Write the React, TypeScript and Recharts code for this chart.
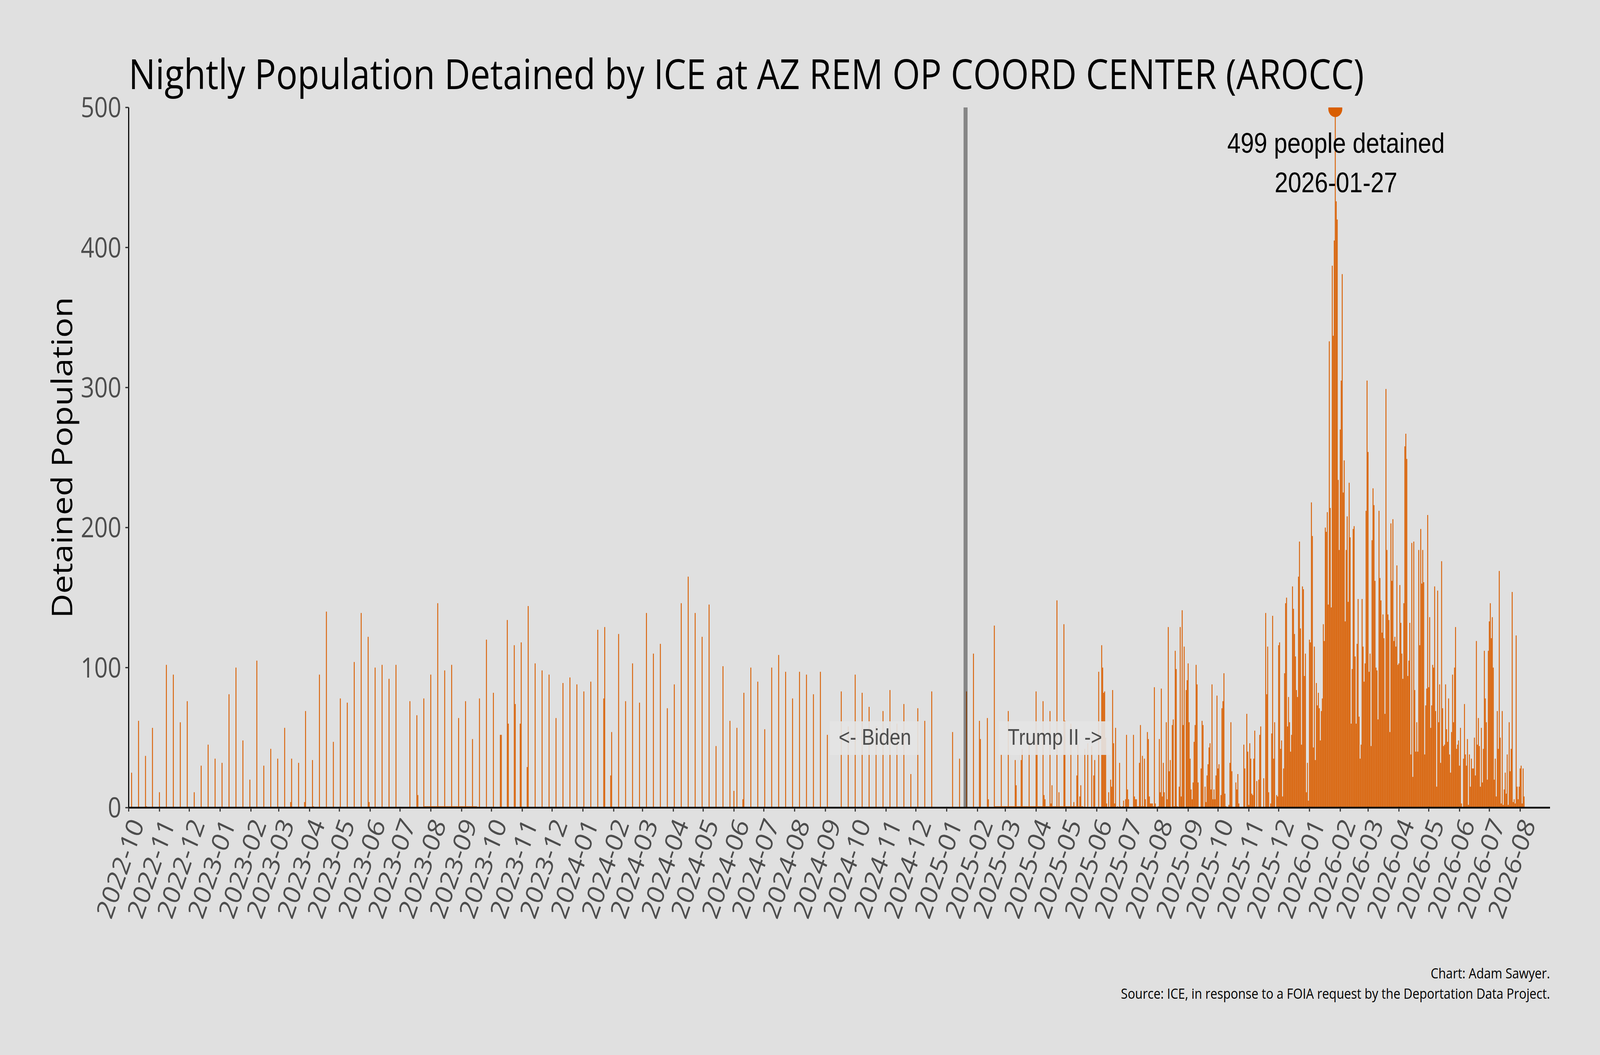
import React from "react";
import { BarChart, Bar, XAxis, YAxis, ReferenceLine, ReferenceDot } from "recharts";

// ---------- data ----------
const START_DATE = "2022-10-01"; // day 0 of the series
const INAUGURATION_DATE = "2025-01-20";

const monthLabels = [
  "2022-10", "2022-11", "2022-12",
  "2023-01", "2023-02", "2023-03", "2023-04", "2023-05", "2023-06",
  "2023-07", "2023-08", "2023-09", "2023-10", "2023-11", "2023-12",
  "2024-01", "2024-02", "2024-03", "2024-04", "2024-05", "2024-06",
  "2024-07", "2024-08", "2024-09", "2024-10", "2024-11", "2024-12",
  "2025-01", "2025-02", "2025-03", "2025-04", "2025-05", "2025-06",
  "2025-07", "2025-08", "2025-09", "2025-10", "2025-11", "2025-12",
  "2026-01", "2026-02", "2026-03", "2026-04", "2026-05", "2026-06",
  "2026-07", "2026-08",
];

const yTicks = [0, 100, 200, 300, 400, 500];

// [days since START_DATE, people detained] – mostly weekly snapshots
const weeklySnapshots: [number, number][] = [
  [3, 25], [10, 62], [17, 37], [18, 1], [24, 57], [31, 11], [38, 102], [45, 95], [52, 61], [59, 76],
  [66, 11], [73, 30], [80, 45], [87, 35], [94, 32], [101, 81], [108, 100], [115, 48], [122, 20], [129, 105],
  [136, 30], [143, 42], [150, 35], [157, 57], [163, 4], [164, 35], [171, 32], [177, 4], [178, 69], [185, 34],
  [186, 1], [192, 95], [199, 140], [206, 47], [213, 78], [220, 75], [227, 104], [234, 139], [241, 122], [242, 4],
  [248, 100], [255, 102], [262, 92], [269, 102], [283, 76], [290, 66], [291, 9], [297, 78],
  [304, 95], [311, 146], [318, 98], [325, 102], [332, 64], [339, 76], [346, 49], [353, 78], [360, 120], [367, 82],
  [374, 52], [375, 52], [381, 134], [382, 60], [388, 116], [389, 74], [394, 60], [395, 118], [401, 29], [402, 144],
  [409, 103], [416, 98], [423, 95], [430, 64], [437, 89], [444, 93], [451, 88], [458, 83], [465, 90], [472, 127],
  [478, 78], [479, 129], [485, 23], [486, 54], [493, 124], [500, 76], [507, 103], [514, 75], [521, 139], [528, 110],
  [535, 117], [542, 71], [549, 88], [556, 146], [563, 165], [570, 139], [577, 122], [584, 145], [591, 44],
  [598, 101], [605, 62], [609, 12], [612, 57], [618, 6], [619, 82], [626, 100], [633, 90], [640, 56], [647, 100],
  [654, 109], [661, 97], [668, 78], [675, 97], [682, 95], [689, 81], [696, 97], [703, 52], [717, 83], [724, 58],
  [731, 95], [738, 82], [745, 72], [752, 58], [759, 69], [766, 84], [773, 60], [780, 74], [787, 24], [794, 71],
  [801, 62], [808, 83], [829, 54], [836, 35], [843, 83], [850, 110], [856, 62], [857, 49], [864, 64], [865, 6],
  [871, 130], [878, 38], [885, 69],
];

// spring / summer 2025: irregular reporting
const spring2025: [number, number][] = [
  [892, 34], [893, 16], [898, 34], [899, 42], [906, 49], [913, 83], [914, 45], [920, 76], [921, 9], [922, 6],
  [927, 69], [928, 3], [929, 16], [934, 148], [936, 11], [941, 131], [942, 62], [947, 1], [948, 60], [951, 4],
  [954, 23], [955, 45], [957, 8], [958, 16], [962, 42], [965, 46], [969, 44], [971, 23], [972, 34], [976, 97],
  [979, 116], [980, 100], [981, 82], [982, 83], [983, 50], [984, 3], [986, 11], [988, 20], [989, 15], [990, 84],
  [991, 46], [992, 3], [993, 57], [995, 1], [997, 32], [998, 1], [1000, 1], [1001, 5], [1003, 6], [1004, 52],
  [1005, 13], [1006, 6], [1011, 52], [1012, 8], [1013, 6], [1014, 6], [1015, 1], [1016, 1], [1017, 32], [1018, 59],
  [1019, 1], [1020, 37], [1021, 1], [1022, 35], [1023, 6], [1025, 54], [1026, 49], [1027, 8], [1028, 3], [1029, 3],
  [1030, 3], [1031, 1], [1032, 86], [1033, 3], [1036, 1], [1037, 49], [1038, 11], [1039, 85], [1040, 8], [1041, 32],
  [1042, 11], [1044, 61], [1045, 6], [1046, 129], [1047, 26], [1048, 34], [1050, 59], [1051, 63], [1052, 1], [1053, 112],
  [1054, 99], [1055, 1], [1057, 15], [1058, 129], [1059, 8], [1060, 141], [1061, 59], [1062, 115], [1064, 84],
];

// stretches where a thin sliver (about 1 person) sits on the baseline: [fromDay, toDay, value]
const baselineRuns: [number, number, number][] = [
  [298, 350, 1],
  [872, 960, 1],
];

// daily counts from 2025-08-31 onward
const DAILY_START = "2025-08-31";
const dailyCounts = [
  91, 103, 61, 35, 13, 6, 18, 47, 59, 102,
  88, 18, 0, 0, 28, 62, 59, 0, 15, 4,
  23, 31, 43, 46, 13, 88, 6, 13, 6, 23,
  80, 28, 31, 0, 9, 71, 76, 96, 10, 1,
  0, 0, 2, 32, 61, 26, 0, 0, 0, 18,
  13, 24, 3, 0, 0, 0, 0, 45, 28, 0,
  67, 40, 2, 46, 35, 10, 9, 35, 55, 0,
  19, 0, 20, 52, 58, 0, 0, 21, 0, 139,
  81, 115, 11, 0, 3, 53, 137, 35, 61, 0,
  9, 8, 116, 118, 42, 48, 8, 28, 96, 146,
  150, 58, 79, 61, 40, 52, 158, 142, 124, 108,
  84, 79, 165, 190,
  128, 45, 158, 156, 94, 110, 11, 32, 5, 120,
  118, 218, 194, 43, 115, 34, 89, 73, 82, 71,
  48, 69, 78, 131, 119, 200, 197, 211, 145, 333,
  214, 143, 387, 337, 405, 499, 433, 420, 234, 184,
  270, 305, 381, 225, 248, 133, 184, 208, 147, 232,
  193, 60, 99, 199, 201, 108, 60, 117, 149, 65,
  35, 45, 149, 115, 90, 103, 212, 305, 254, 97,
  110, 44, 191, 228, 216, 162, 100, 98, 63, 212,
  164, 148, 125, 138, 121, 67, 299, 184, 138, 134,
  54, 203, 162, 206, 119, 122, 115, 173, 102, 103,
  159, 132, 110, 92, 146, 258, 267, 249, 94, 105,
  132, 38, 189, 22, 190, 84, 40,
  61, 40, 184, 116, 199, 160, 184, 161, 38, 73,
  85, 209, 86, 136, 57, 73, 102, 100, 158, 69,
  15, 155, 61, 88, 32, 176, 71, 44, 45, 88,
  56, 47, 78, 38, 25, 54, 95, 61, 100, 129,
  42, 45, 48, 30, 57, 3, 0, 35, 74, 38,
  30, 49, 2, 38, 15, 35, 28, 28, 50, 23,
  119, 45, 64, 44, 15, 57, 18, 42, 112, 78,
  61, 20, 112, 133, 146, 121, 136, 100, 20, 35,
  8, 69, 42, 169, 50, 3, 69, 2, 13, 25,
  10, 38, 2, 61, 26, 42, 154, 4, 6, 3,
  123, 15, 6, 15, 28, 30, 3, 28, 8,
];

// ---------- helpers ----------
const DAY_MS = 86400000;
const T0 = Date.parse(START_DATE + "T00:00:00Z");
const dayOf = (iso: string) => Math.round((Date.parse(iso + "T00:00:00Z") - T0) / DAY_MS);
const isoOf = (d: number) => new Date(T0 + d * DAY_MS).toISOString().slice(0, 10);

const dailyStartDay = dayOf(DAILY_START);
const lastDay = dailyStartDay + dailyCounts.length - 1;
const values: number[] = new Array(lastDay + 1).fill(0);
baselineRuns.forEach(([a, b, v]) => {
  for (let d = a; d <= b; d++) values[d] = v;
});
[...weeklySnapshots, ...spring2025].forEach(([d, v]) => {
  values[d] = v;
});
dailyCounts.forEach((v, i) => {
  values[dailyStartDay + i] = v;
});
const data = values.map((v, d) => ({ day: d, detained: v }));

const monthTickDays = monthLabels.map((m) => dayOf(m + "-01"));
const inaugurationDay = dayOf(INAUGURATION_DATE);
let peakDay = 0;
values.forEach((v, d) => {
  if (v > values[peakDay]) peakDay = d;
});
const peakValue = values[peakDay];
const peakDate = isoOf(peakDay);

const SANS = "'Open Sans', 'Noto Sans', 'DejaVu Sans', sans-serif";
const ARIAL = "'Liberation Sans', Arial, sans-serif";
const ORANGE = "#d95f02";
const BG = "#e0e0e0";
const W = 4800;
const H = 2700;

// ---------- components ----------
const MonthTick = (props: any) => {
  const { x, y, payload } = props;
  return (
    <text
      transform={`translate(${x + 24},${y + 22}) rotate(-68)`}
      textAnchor="end"
      dy="0.357em"
      fontSize={71}
      fill="#4d4d4d"
      fontFamily={SANS}
    >
      {isoOf(payload.value).slice(0, 7)}
    </text>
  );
};

const YTitle = (props: any) => {
  const vb = props.viewBox || { x: 0, y: 275, width: 386, height: 1792 };
  const cx = vb.x + 184;
  const cy = vb.y + vb.height / 2;
  return (
    <text
      x={cx}
      y={cy}
      transform={`rotate(-90, ${cx}, ${cy})`}
      textAnchor="middle"
      dominantBaseline="central"
      fontSize={86}
      fill="#000"
      fontFamily={SANS}
    >
      Detained Population
    </text>
  );
};

const eraLabels: { text: string; dx: number; w: number }[] = [
  { text: "<- Biden", dx: -272, w: 270 },
  { text: "Trump II ->", dx: 268, w: 336 },
];

const EraLabels = (props: any) => {
  const vb = props.viewBox;
  if (!vb) return null;
  const base = vb.y + vb.height - 161;
  return (
    <g>
      {eraLabels.map((l) => (
        <g key={l.text}>
          <rect
            x={vb.x + l.dx - l.w / 2}
            y={base - 60}
            width={l.w}
            height={86}
            fill="#e4e4e4"
            fillOpacity={0.9}
          />
          <text
            x={vb.x + l.dx}
            y={base}
            textAnchor="middle"
            fontSize={58}
            fill="#4d4d4d"
            fontFamily={ARIAL}
          >
            {l.text}
          </text>
        </g>
      ))}
    </g>
  );
};

const PeakMarker = (props: any) => {
  const { cx, cy, clipPath } = props;
  return (
    <g>
      <circle cx={cx} cy={cy} r={21} fill={ORANGE} clipPath={clipPath} />
      <text x={cx + 2} y={cy + 112} textAnchor="middle" fontSize={72} fill="#000" fontFamily={ARIAL}>
        {`${peakValue} people detained`}
      </text>
      <text x={cx + 2} y={cy + 213} textAnchor="middle" fontSize={72} fill="#000" fontFamily={ARIAL}>
        {peakDate}
      </text>
    </g>
  );
};

export default function App() {
  // the browser window may be narrower than the 4800px canvas; squeeze horizontally to fit
  const vw = typeof window !== "undefined" ? window.innerWidth : W;
  const sx = Math.min(1, vw / W);
  return (
    <div
      style={{
        position: "absolute",
        left: 0,
        top: 0,
        width: W,
        height: H,
        background: BG,
        transform: `scale(${sx}, 1)`,
        transformOrigin: "0 0",
      }}
    >
      <BarChart
        width={W}
        height={H}
        data={data}
        margin={{ top: 275, right: 150, bottom: 0, left: 0 }}
        barCategoryGap={0}
      >
        <XAxis
          type="number"
          dataKey="day"
          domain={[0, 1430]}
          ticks={monthTickDays}
          interval={0}
          height={633}
          tickSize={10}
          tickMargin={0}
          axisLine={{ stroke: "#000", strokeWidth: 4.5 }}
          tickLine={{ stroke: "#333", strokeWidth: 3.3 }}
          tick={<MonthTick />}
          allowDataOverflow
        />
        <YAxis
          type="number"
          domain={[0, 500]}
          ticks={yTicks}
          interval={0}
          width={386}
          tickSize={10}
          tickMargin={12}
          axisLine={{ stroke: "#000", strokeWidth: 3.3 }}
          tickLine={{ stroke: "#333", strokeWidth: 3.3 }}
          tick={{ fontSize: 71, fill: "#4d4d4d", fontFamily: SANS }}
          label={<YTitle />}
          allowDataOverflow
        />
        <Bar dataKey="detained" fill={ORANGE} barSize={3} isAnimationActive={false} />
        <ReferenceLine
          x={inaugurationDay}
          stroke="#000"
          strokeOpacity={0.4}
          strokeWidth={12}
          label={<EraLabels />}
        />
        <ReferenceDot x={peakDay} y={peakValue} r={21} ifOverflow="hidden" shape={PeakMarker} />
      </BarChart>
      <svg
        width={W}
        height={H}
        style={{ position: "absolute", left: 0, top: 0, pointerEvents: "none" }}
      >
        <text x={386} y={228} fontSize={107} fill="#000" fontFamily={SANS}>
          Nightly Population Detained by ICE at AZ REM OP COORD CENTER (AROCC)
        </text>
        <text x={4650} y={2504} textAnchor="end" fontSize={37} fill="#000" fontFamily={SANS}>
          Chart: Adam Sawyer.
        </text>
        <text x={4650} y={2556} textAnchor="end" fontSize={37} fill="#000" fontFamily={SANS}>
          Source: ICE, in response to a FOIA request by the Deportation Data Project.
        </text>
      </svg>
    </div>
  );
}
